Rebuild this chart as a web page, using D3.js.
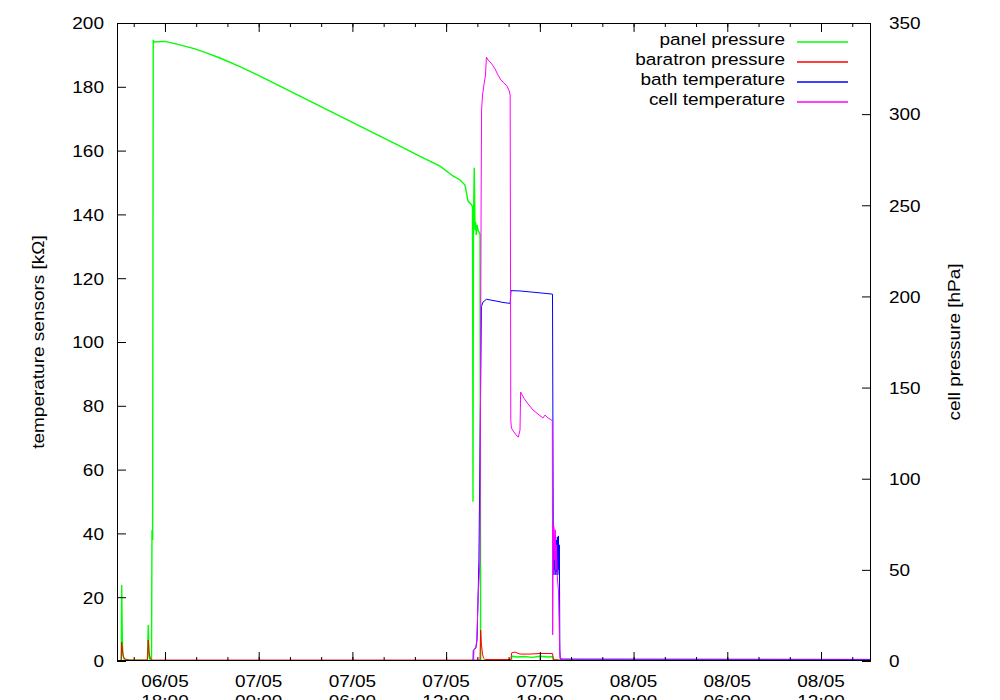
<!DOCTYPE html>
<html><head><meta charset="utf-8">
<script src="https://cdn.jsdelivr.net/npm/d3@7"></script>
<style>
body{margin:0;background:#fff;}
svg{display:block;}
text{font-family:"Liberation Sans",Arial,Helvetica,sans-serif;font-size:19px;fill:#000;}
</style>
</head><body><svg id="c" width="1000" height="700"></svg>
<script>
// ---- data (time in hours since 06/05 00:00) ----
const seriesNames = ["panel pressure", "baratron pressure", "bath temperature", "cell temperature"];
const seriesColors = ["#00ff00", "#ff0000", "#0000ff", "#ff00ff"];
const seriesWidths = [1.4, 1, 1, 1];
const leftTicks = [0, 20, 40, 60, 80, 100, 120, 140, 160, 180, 200];
const rightTicks = [0, 50, 100, 150, 200, 250, 300, 350];
const timeDomainHours = [14.93, 63.2];
const leftLabel = "temperature sensors [kΩ]";
const rightLabel = "cell pressure [hPa]";

// pressures in hPa (right axis)
const panelPressure = [
  [15.20,0],[15.23,41.7],[15.27,11.5],[15.31,3.3],[15.38,1.1],[15.44,0.5],[16.88,0.5],[16.93,19.7],
  [16.98,3.3],[17.04,0.5],[17.14,0.5],[17.17,71.9],[17.21,66.4],[17.25,340.7],[17.30,339.6],
  [18.00,339.9],[18.96,338.0],[19.92,335.8],[20.69,333.5],[21.52,330.8],[22.80,326.1],[24.08,320.9],
  [25.36,315.4],[26.64,309.9],[27.92,304.4],[29.20,298.9],[30.48,293.4],[31.76,287.9],[33.05,282.4],
  [34.33,276.9],[35.61,271.5],[36.44,266.1],[36.89,263.9],[37.21,261.1],[37.33,255.6],[37.40,252.3],
  [37.64,250.2],[37.69,249.1],[37.72,87.4],[37.75,236.4],[37.80,270.6],[37.85,236.4],[37.89,240.8],
  [37.93,233.7],[37.98,239.2],[38.04,236.4],[38.17,234.0],[38.21,0.8],[38.26,0.3],[40.17,0.3],
  [40.22,2.7],[40.50,2.2],[41.00,2.5],[41.50,2.0],[42.00,2.6],[42.50,2.2],[42.82,2.5],[42.86,0.4],[63.2,0.3]
];
const baratronPressure = [
  [15.20,0],[15.23,10.4],[15.29,4.9],[15.35,2.2],[15.44,1.1],[15.76,0.5],[16.88,0.5],[16.93,11.5],
  [16.98,4.9],[17.07,1.1],[17.17,0.5],[38.17,0.5],[38.21,17.0],[38.26,8.8],[38.33,3.8],[38.39,1.6],
  [38.49,0.8],[40.15,0.8],[40.19,4.4],[40.40,4.9],[40.73,3.8],[41.37,3.8],[42.01,4.1],[42.81,4.1],
  [42.87,0.8],[43.29,0.5],[63.2,0.5]
];
// temperature sensors in kOhm (left axis)
const bathTemperature = [
  [15.20,0],[37.72,0],[37.74,3.4],[37.91,4.1],[37.98,6.6],[38.10,31.7],[38.20,81.8],[38.26,111.1],
  [38.36,112.5],[38.58,113.4],[39.13,112.9],[39.64,112.4],[40.10,112.1],[40.15,116.1],[40.73,116.0],
  [41.37,115.7],[42.01,115.4],[42.81,115.0],[42.86,37.9],[42.90,27.0],[42.94,38.9],[42.97,28.5],
  [43.00,36.4],[43.03,27.0],[43.06,37.9],[43.09,27.9],[43.12,38.9],[43.15,27.0],[43.19,39.2],
  [43.22,28.5],[43.25,36.4],[43.28,3.4],[43.31,0.6],[63.2,0.5]
];
const cellTemperature = [
  [15.20,0],[37.76,0],[37.78,3.4],[37.91,4.5],[37.96,6.6],[38.06,21.3],[38.17,31.7],[38.24,144.5],
  [38.27,172.7],[38.33,177.4],[38.42,180.6],[38.52,183.7],[38.58,189.3],[38.68,188.4],[38.81,187.8],
  [38.93,187.1],[39.13,185.6],[39.32,183.7],[39.51,182.1],[39.70,181.2],[39.89,180.3],[40.04,178.7],
  [40.10,177.4],[40.14,75.5],[40.18,73.0],[40.34,71.8],[40.54,70.5],[40.62,70.2],[40.73,72.4],
  [40.77,84.3],[40.98,82.4],[41.24,80.6],[41.56,78.7],[41.88,77.4],[42.20,76.2],[42.33,77.1],
  [42.52,76.2],[42.76,75.5],[42.80,75.2],[42.82,8.2],[42.85,31.7],[42.88,42.6],[42.92,41.1],
  [42.96,31.7],[42.99,41.1],[43.02,28.5],[43.05,36.4],[43.13,25.4],[43.19,22.3],[43.26,6.6],
  [43.29,0.9],[43.61,0.3],[63.2,0.3]
];

// ---- layout ----
const L = 117, R = 871, T = 23, B = 661, SY = 0.84;
const base = Date.UTC(2009, 4, 6);
const toDate = h => new Date(base + h * 3600000);

const svg = d3.select("#c");
const x = d3.scaleUtc().domain(timeDomainHours.map(toDate)).range([L, R]);
const yL = d3.scaleLinear().domain([0, 200]).range([B, T]);
const yR = d3.scaleLinear().domain([0, 350]).range([B, T]);

function label(px, py, s, anchor, rot) {
  svg.append("text")
    .attr("transform", `translate(${px},${py}) rotate(${rot || 0}) scale(1,${SY})`)
    .attr("text-anchor", anchor)
    .text(s);
}

// clip
svg.append("clipPath").attr("id", "clip").append("rect")
  .attr("x", L).attr("y", T).attr("width", R - L).attr("height", B - T);

// series
const series = [
  { data: panelPressure, y: yR },
  { data: baratronPressure, y: yR },
  { data: bathTemperature, y: yL },
  { data: cellTemperature, y: yL }
];
const plot = svg.append("g").attr("clip-path", "url(#clip)");
series.forEach((s, i) => {
  const line = d3.line().x(d => x(toDate(d[0]))).y(d => s.y(d[1]));
  plot.append("path").datum(s.data).attr("d", line)
    .attr("fill", "none").attr("stroke", seriesColors[i]).attr("stroke-width", seriesWidths[i]);
});

// axes (ticks inward)
function styleAxis(g) { g.select(".domain").remove(); g.selectAll("line").attr("stroke", "#000"); }
const major = d3.utcHour.every(6), minor = d3.utcHour.every(2);
svg.append("g").attr("transform", `translate(0,${B})`)
  .call(d3.axisBottom(x).ticks(minor).tickSize(-4).tickFormat("")).call(styleAxis);
svg.append("g").attr("transform", `translate(0,${B})`)
  .call(d3.axisBottom(x).ticks(major).tickSize(-9).tickFormat("")).call(styleAxis);
svg.append("g").attr("transform", `translate(0,${T})`)
  .call(d3.axisTop(x).ticks(minor).tickSize(-4).tickFormat("")).call(styleAxis);
svg.append("g").attr("transform", `translate(0,${T})`)
  .call(d3.axisTop(x).ticks(major).tickSize(-9).tickFormat("")).call(styleAxis);
svg.append("g").attr("transform", `translate(${L},0)`)
  .call(d3.axisLeft(yL).tickValues(leftTicks).tickSize(-9).tickFormat("")).call(styleAxis);
svg.append("g").attr("transform", `translate(${R},0)`)
  .call(d3.axisRight(yR).tickValues(rightTicks).tickSize(-9).tickFormat("")).call(styleAxis);

// frame
svg.append("rect").attr("x", L + 0.5).attr("y", T + 0.5).attr("width", R - L - 1).attr("height", B - T - 1)
  .attr("fill", "none").attr("stroke", "#000").attr("stroke-width", 1);

// tick labels (second line runs off the bottom edge, as in the reference)
const fDay = d3.utcFormat("%d/%m"), fTime = d3.utcFormat("%H:%M");
x.ticks(major).forEach(d => {
  label(x(d), B + 26, fDay(d), "middle");
  label(x(d), B + 46, fTime(d), "middle");
});
leftTicks.forEach(v => label(104, yL(v) + 6.3, String(v), "end"));
rightTicks.forEach(v => label(889, yR(v) + 6.3, String(v), "start"));

// axis titles
label(44, (T + B) / 2, leftLabel, "middle", -90);
label(960, (T + B) / 2, rightLabel, "middle", -90);

// legend
seriesNames.forEach((n, i) => {
  const yy = 42 + 20 * i;
  label(785, yy + 3, n, "end");
  svg.append("line").attr("x1", 797).attr("x2", 848).attr("y1", yy).attr("y2", yy)
    .attr("stroke", seriesColors[i]).attr("stroke-width", 1.6);
});
</script>
</body></html>
